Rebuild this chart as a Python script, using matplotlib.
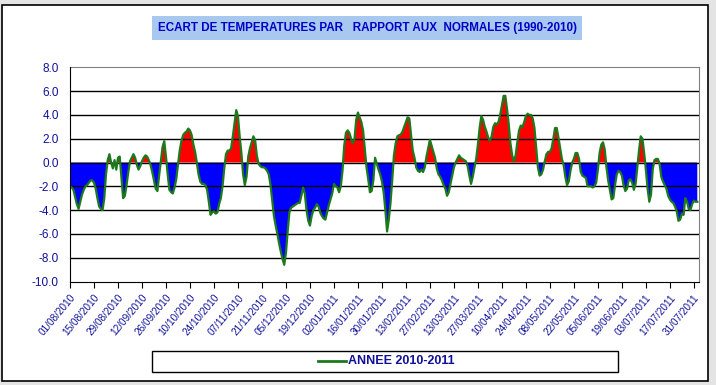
import pandas as pd
import matplotlib
matplotlib.use('Agg')
import matplotlib.pyplot as plt
from matplotlib.patches import Rectangle
from matplotlib.lines import Line2D
from matplotlib import font_manager

# ecart journalier (degres) du 01/08/2010 au 02/08/2011
ecart = [
    -2.0, -2.1, -2.3, -2.9, -3.5, -3.9, -3.3, -2.7, -2.3, -2.0,
    -1.9, -1.7, -1.5, -1.5, -1.7, -2.2, -3.0, -3.7, -3.9, -4.0,
    -3.0, -1.0, 0.2, 0.7, 0.0, -0.5, 0.2, -0.6, 0.4, 0.5,
    -1.2, -3.0, -2.8, -1.9, -0.8, 0.1, 0.4, 0.7, 0.4, -0.2,
    -0.6, -0.3, 0.1, 0.4, 0.6, 0.5, 0.2, -0.2, -0.8, -1.5,
    -2.2, -2.4, -1.1, 0.1, 1.3, 1.8, 0.5, -1.0, -2.3, -2.5,
    -2.6, -2.1, -1.4, -0.2, 1.0, 1.8, 2.3, 2.5, 2.6, 2.85,
    2.7, 2.3, 1.5, 0.9, 0.0, -1.0, -1.6, -1.8, -1.8, -1.9,
    -2.3, -3.3, -4.4, -4.2, -4.1, -4.3, -4.2, -3.5, -3.0, -2.0,
    -0.5, 0.7, 1.0, 1.0, 1.2, 2.2, 3.3, 4.4, 3.9, 2.2,
    0.8, -1.0, -1.9, -1.2, 0.5, 1.2, 1.7, 2.2, 1.9, 0.6,
    -0.1, -0.3, -0.4, -0.4, -0.5, -0.7, -1.0, -1.9, -3.2, -4.5,
    -5.3, -6.0, -6.8, -7.5, -8.1, -8.6, -7.6, -5.8, -4.2, -3.8,
    -3.7, -3.6, -3.5, -3.4, -3.4, -2.8, -2.1, -2.6, -4.0, -4.9,
    -5.3, -4.5, -4.0, -3.8, -3.5, -3.7, -4.2, -4.5, -4.7, -4.8,
    -4.2, -3.6, -3.1, -2.6, -1.8, -2.0, -2.1, -2.5, -2.0, -0.7,
    1.4, 2.5, 2.7, 2.5, 2.0, 1.6, 2.0, 3.6, 4.2, 3.8,
    3.4, 2.7, 1.1, -0.4, -1.4, -2.5, -2.4, -1.5, 0.4, -0.1,
    -0.6, -1.0, -1.6, -2.5, -4.0, -5.8, -4.8, -3.4, -1.5, 0.6,
    1.6, 2.2, 2.3, 2.35, 2.6, 3.0, 3.4, 3.8, 3.7, 2.3,
    1.0, 0.4, -0.4, -0.7, -0.8, -0.6, -0.8, -0.4, 0.5, 1.2,
    1.9, 1.4, 0.9, 0.4, -0.5, -1.0, -1.2, -1.5, -1.9, -2.2,
    -2.8, -2.5, -1.8, -1.1, -0.4, 0.0, 0.3, 0.6, 0.4, 0.3,
    0.2, 0.1, -0.3, -1.1, -1.8, -1.2, -0.4, 0.3, 1.5, 2.9,
    3.9, 3.6, 3.0, 2.6, 2.1, 1.8, 2.2, 3.0, 3.3, 3.2,
    3.4, 4.0, 4.8, 5.6, 5.6, 4.5, 3.2, 1.6, 0.6, 0.1,
    0.6, 1.7, 2.7, 3.1, 3.0, 3.4, 3.9, 4.1, 4.0, 4.0,
    3.7, 2.9, 1.2, -0.4, -1.1, -1.0, -0.6, 0.1, 0.7, 0.9,
    0.9, 1.2, 2.0, 2.9, 2.9, 2.1, 1.2, 0.3, -0.2, -1.2,
    -1.9, -1.6, -0.7, 0.0, 0.3, 0.8, 0.8, 0.3, -0.8, -1.1,
    -1.2, -1.3, -2.0, -2.0, -2.0, -2.1, -2.0, -1.7, -0.6, 0.8,
    1.5, 1.7, 1.1, -0.4, -1.5, -2.3, -3.1, -3.0, -1.9, -1.0,
    -0.7, -0.8, -1.1, -1.9, -2.4, -2.2, -1.5, -1.4, -1.7, -2.3,
    -1.8, -0.4, 1.0, 2.2, 2.0, 0.8, -0.6, -2.2, -3.3, -2.7,
    -0.6, 0.2, 0.3, 0.3, -0.1, -1.2, -1.6, -1.9, -2.2, -2.8,
    -3.1, -3.3, -3.4, -3.7, -4.1, -4.9, -4.8, -4.3, -4.4, -3.0,
    -3.3, -3.9, -4.0, -3.5, -3.2, -3.3, -3.3,
]
start = '2010-08-01'
yticks = [8.0, 6.0, 4.0, 2.0, 0.0, -2.0, -4.0, -6.0, -8.0, -10.0]
title = 'ECART DE TEMPERATURES PAR   RAPPORT AUX  NORMALES (1990-2010)'
serie = 'ANNEE 2010-2011'

dates = pd.date_range(start, periods=len(ecart), freq='D')
x = list(range(len(ecart)))
tick_pos = x[::14]
tick_lab = [d.strftime('%d/%m/%Y') for d in dates[::14]]

# police etroite si dispo
noms = {f.name for f in font_manager.fontManager.ttflist}
narrow = 'Liberation Sans Narrow' if 'Liberation Sans Narrow' in noms else 'Liberation Sans'
bleu = '#10109a'
vert = '#1c7a1c'

fig = plt.figure(figsize=(7.16, 3.85), dpi=100, facecolor='#e4e4e4')
# cadre du graphique
fig.patches.append(Rectangle((2 / 716, 1 - 381 / 385), 706 / 716, 376 / 385,
                             transform=fig.transFigure, facecolor='white',
                             edgecolor='black', lw=1.2, zorder=-10))

ax = fig.add_axes([70 / 716, 1 - 281.5 / 385, 629 / 716, 214.2 / 385])
ax.set_facecolor('white')

ax.fill_between(x, ecart, 0, where=[v >= 0 for v in ecart], interpolate=True,
                color='#ff0000', lw=0, zorder=2)
ax.fill_between(x, ecart, 0, where=[v <= 0 for v in ecart], interpolate=True,
                color='#0000ff', lw=0, zorder=2)
for v in yticks[1:-1]:
    ax.axhline(v, color='black', lw=1, zorder=2.5)
ax.plot(x, ecart, color=vert, lw=1.6, zorder=3)

ax.set_xlim(0, len(ecart))
ax.set_ylim(-10, 8)
ax.set_yticks(yticks)
ax.set_yticklabels([f'{v:.1f}' for v in yticks], color=bleu,
                   fontsize=8.5, family='Liberation Sans')
ax.tick_params(axis='y', length=0, pad=8)

ax.set_xticks(tick_pos)
ax.set_xticklabels(tick_lab, rotation=50, ha='right', rotation_mode='anchor',
                   color=bleu, fontsize=7.2, family=narrow)
ax.tick_params(axis='x', length=4, direction='out', pad=4)

for s in ['top', 'right']:
    ax.spines[s].set_color('#808080')
for s in ['left', 'bottom']:
    ax.spines[s].set_color('black')
    ax.spines[s].set_zorder(4)

# titre sur fond bleu clair
fig.text(367 / 716, 1 - 28 / 385, title, ha='center', va='center',
         fontsize=8.4, fontweight='bold', color='#0000c8', family=narrow,
         bbox=dict(boxstyle='square,pad=0.5', facecolor='#a8c8f0', edgecolor='none'))

# legende
fig.patches.append(Rectangle((152 / 716, 1 - 372 / 385), 466 / 716, 21 / 385,
                             transform=fig.transFigure, facecolor='white',
                             edgecolor='black', lw=1, zorder=1))
fig.lines.append(Line2D([318 / 716, 346 / 716], [1 - 361 / 385, 1 - 361 / 385],
                        transform=fig.transFigure, color=vert, lw=2))
fig.text(348 / 716, 1 - 361 / 385, serie, ha='left', va='center', fontsize=9,
         fontweight='bold', color=bleu, family=narrow)

fig.savefig('out.png', dpi=100, facecolor=fig.get_facecolor())
